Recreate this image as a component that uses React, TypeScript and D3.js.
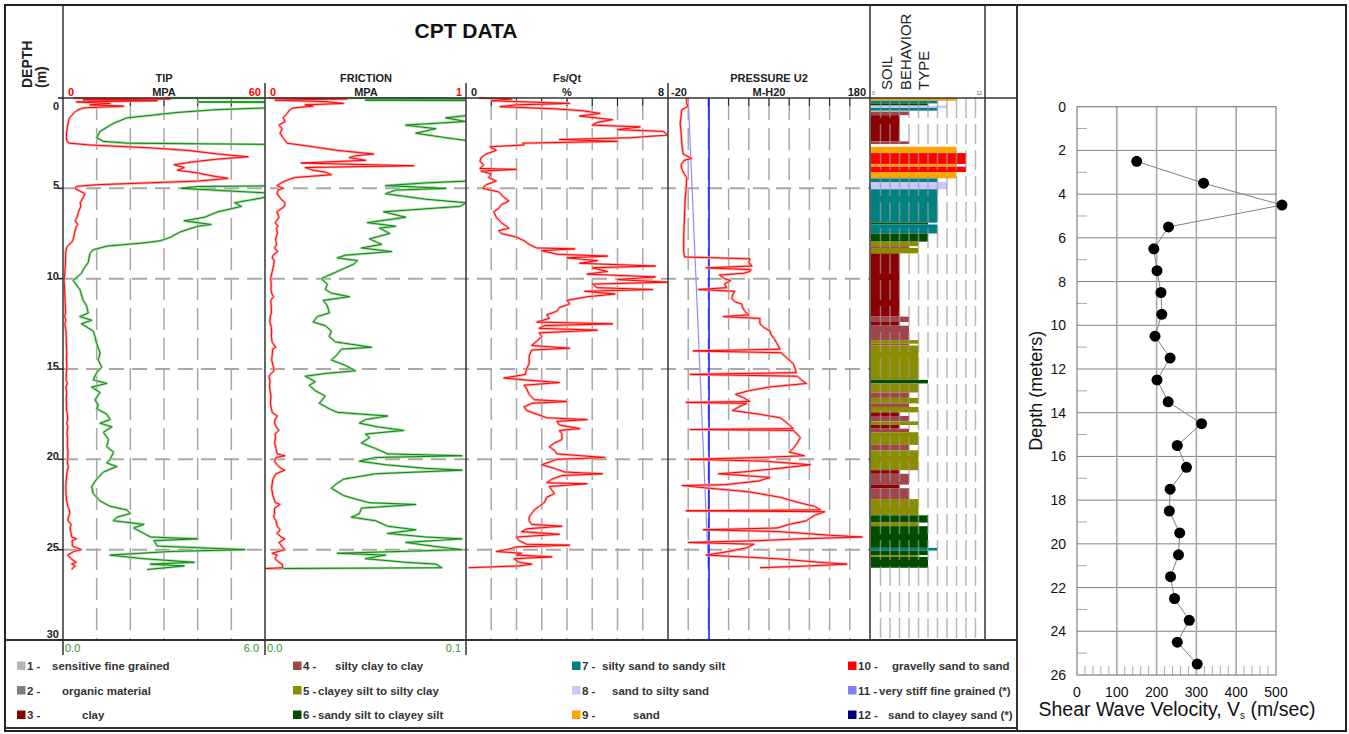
import * as d3 from "d3";

type Pt = [number, number];

const FONT = "'Liberation Sans', Arial, Helvetica, sans-serif";

// cone tip resistance, [depth m, MPa]
const tipTrace: Pt[] = [
  [0, 3], [0.05, 32], [0.1, 6], [0.15, 28], [0.22, 4], [0.3, 14], [0.38, 8], [0.45, 18], [0.55, 6], [0.65, 4.5],
  [0.8, 3.4], [1.1, 1.9], [1.4, 1.5], [1.85, 1.1], [2.2, 1.0], [2.4, 1.2], [2.5, 1.9], [2.6, 8], [2.75, 25], [2.9, 37],
  [3.1, 46], [3.25, 55], [3.4, 45], [3.55, 38], [3.7, 33], [3.85, 36], [4.0, 34], [4.15, 40], [4.3, 44], [4.45, 49],
  [4.6, 40], [4.7, 25], [4.8, 10], [4.9, 4], [5.0, 3.5], [5.3, 6.5], [5.5, 6], [5.8, 5.1], [6.0, 5.3], [6.3, 4.6],
  [6.6, 4.2], [6.8, 3.6], [7.0, 4.4], [7.1, 4.0], [7.4, 3.5], [7.7, 3.2], [7.9, 2.9], [8.0, 2.5], [8.2, 1.3], [8.4, 0.9],
  [8.6, 0.8], [9.1, 0.75], [9.5, 0.6], [9.7, 0.55], [10.1, 0.3], [10.6, 0.5], [11.2, 0.6], [11.5, 0.7], [11.9, 0.75],
  [12.1, 0.5], [12.3, 0.85], [12.5, 0.55], [12.9, 0.9], [13.2, 0.95], [13.6, 1.0], [14.1, 1.1], [14.5, 1.05], [14.9, 1.15],
  [15.2, 1.0], [15.6, 0.9], [15.8, 1.3], [16.0, 0.85], [16.3, 1.1], [16.7, 0.95], [17.0, 1.05], [17.2, 1.0], [17.5, 1.3],
  [17.8, 1.4], [18.0, 1.1], [18.2, 1.45], [18.5, 1.2], [18.9, 1.35], [19.3, 1.3], [19.6, 1.5], [20.0, 1.4], [20.2, 1.3],
  [20.4, 1.6], [20.7, 1.2], [21.1, 1.0], [21.5, 0.85], [21.9, 0.9], [22.3, 1.1], [22.6, 1.4], [22.8, 1.9], [23.0, 2.0],
  [23.2, 1.6], [23.4, 1.5], [23.6, 2.4], [23.8, 2.1], [24.1, 2.4], [24.3, 2.6], [24.4, 4.0], [24.5, 2.7], [24.8, 2.8],
  [25.0, 5.4], [25.1, 3.2], [25.3, 1.4], [25.5, 2.4], [25.7, 3.9], [25.8, 2.6], [25.9, 3.6], [26.1, 2.5],
];

// sleeve friction, [depth m, MPa]
const frictionTrace: Pt[] = [
  [0, 0.02], [0.05, 0.41], [0.12, 0.05], [0.2, 0.3], [0.3, 0.39], [0.38, 0.2], [0.45, 0.24], [0.55, 0.14], [0.7, 0.12],
  [0.85, 0.11], [1.1, 0.09], [1.3, 0.1], [1.5, 0.07], [1.7, 0.085], [1.95, 0.075], [2.2, 0.09], [2.5, 0.11], [2.7, 0.24],
  [2.9, 0.36], [3.1, 0.54], [3.2, 0.45], [3.3, 0.42], [3.45, 0.5], [3.6, 0.18], [3.75, 0.74], [3.85, 0.2], [4.0, 0.24],
  [4.1, 0.3], [4.25, 0.33], [4.4, 0.15], [4.5, 0.12], [4.7, 0.08], [4.85, 0.06], [5.0, 0.09], [5.1, 0.065], [5.3, 0.06],
  [5.6, 0.08], [5.8, 0.1], [6.0, 0.097], [6.3, 0.059], [6.6, 0.07], [6.9, 0.051], [7.1, 0.065], [7.2, 0.057], [7.5, 0.062],
  [7.8, 0.052], [8.1, 0.058], [8.3, 0.048], [8.5, 0.063], [8.7, 0.04], [8.85, 0.036], [9.0, 0.046], [9.2, 0.044],
  [9.4, 0.04], [9.6, 0.036], [9.8, 0.032], [10.0, 0.028], [10.3, 0.031], [10.6, 0.03], [10.8, 0.033], [11.0, 0.042],
  [11.2, 0.029], [11.5, 0.031], [11.9, 0.032], [12.1, 0.026], [12.4, 0.024], [12.6, 0.03], [12.9, 0.033], [13.2, 0.032],
  [13.5, 0.035], [13.8, 0.053], [13.9, 0.038], [14.2, 0.036], [14.5, 0.033], [14.8, 0.04], [15.1, 0.045], [15.25, 0.03],
  [15.4, 0.02], [15.7, 0.025], [15.9, 0.022], [16.2, 0.025], [16.5, 0.03], [16.9, 0.027], [17.2, 0.032], [17.4, 0.036],
  [17.6, 0.061], [17.8, 0.05], [18.0, 0.047], [18.2, 0.056], [18.4, 0.069], [18.6, 0.05], [18.8, 0.052], [19.1, 0.048],
  [19.4, 0.055], [19.7, 0.061], [19.8, 0.098], [19.9, 0.055], [20.1, 0.047], [20.3, 0.06], [20.5, 0.08], [20.6, 0.098],
  [20.8, 0.055], [21.1, 0.039], [21.4, 0.035], [21.6, 0.033], [22.0, 0.039], [22.2, 0.045], [22.4, 0.052], [22.5, 0.075],
  [22.7, 0.048], [23.0, 0.047], [23.2, 0.043], [23.4, 0.055], [23.7, 0.061], [23.9, 0.075], [24.1, 0.061], [24.3, 0.08],
  [24.4, 0.098], [24.6, 0.07], [24.8, 0.083], [25.0, 0.098], [25.2, 0.036], [25.3, 0.06], [25.5, 0.05], [25.7, 0.07],
  [25.8, 0.085], [26.0, 0.088], [26.05, 0],
];

// friction ratio Fs/Qt, [depth m, %]
const ratioTrace: Pt[] = [
  [0, 0.5], [0.05, 1.8], [0.15, 1.0], [0.3, 4.1], [0.38, 2.0], [0.48, 1.35], [0.6, 3.5], [0.7, 4.6], [0.85, 5.3], [1.0, 4.5],
  [1.2, 5.8], [1.35, 5.2], [1.5, 5.0], [1.6, 6.9], [1.75, 6.0], [1.85, 7.8], [2.05, 8.0], [2.2, 6.5], [2.3, 3.7], [2.4, 6.0],
  [2.5, 2.25], [2.6, 2.3], [2.7, 0.95], [2.9, 1.2], [3.1, 0.8], [3.3, 0.6], [3.5, 0.55], [3.7, 0.7], [3.9, 0.55], [3.95, 2.0],
  [4.05, 0.6], [4.2, 1.0], [4.4, 0.9], [4.6, 1.2], [4.8, 0.8], [5.0, 0.65], [5.2, 1.3], [5.5, 1.5], [5.7, 1.7], [5.9, 1.4],
  [6.1, 1.3], [6.3, 1.1], [6.6, 1.2], [6.9, 1.4], [7.2, 1.7], [7.35, 1.3], [7.5, 1.4], [7.7, 2.0], [7.9, 2.3], [8.1, 2.5],
  [8.3, 2.8], [8.35, 4.3], [8.45, 3.0], [8.65, 3.6], [8.75, 5.6], [8.85, 4.0], [9.0, 5.2], [9.15, 4.5], [9.3, 7.5], [9.4, 5.0],
  [9.6, 5.6], [9.75, 4.8], [9.9, 7.5], [10.05, 6.0], [10.2, 8.0], [10.3, 5.0], [10.5, 5.2], [10.6, 7.4], [10.7, 4.7],
  [10.85, 5.9], [11.0, 4.8], [11.2, 4.0], [11.4, 4.1], [11.6, 3.7], [11.8, 3.6], [12.0, 3.2], [12.2, 3.3], [12.4, 2.8],
  [12.5, 5.8], [12.6, 3.1], [12.75, 2.9], [12.85, 5.2], [13.0, 2.9], [13.2, 3.0], [13.4, 2.85], [13.7, 2.6], [13.85, 4.1],
  [13.95, 2.6], [14.3, 2.5], [14.7, 2.5], [15.0, 2.4], [15.3, 2.35], [15.5, 1.5], [15.6, 2.3], [15.75, 3.7], [15.9, 2.3],
  [16.1, 2.4], [16.4, 2.5], [16.7, 2.7], [16.8, 4.0], [16.9, 2.6], [17.1, 2.3], [17.3, 2.4], [17.5, 2.8], [17.7, 3.2],
  [17.8, 4.8], [17.9, 3.6], [18.1, 3.7], [18.3, 4.5], [18.4, 3.7], [18.6, 3.8], [18.9, 3.8], [19.1, 3.5], [19.3, 3.3],
  [19.5, 3.5], [19.7, 3.6], [19.9, 5.5], [20.0, 3.6], [20.2, 3.2], [20.3, 3.0], [20.5, 3.5], [20.7, 3.9], [20.8, 5.4],
  [20.9, 3.8], [21.1, 3.4], [21.3, 3.2], [21.35, 4.8], [21.5, 3.3], [21.7, 3.4], [21.9, 3.5], [22.1, 3.2], [22.4, 3.1],
  [22.6, 2.9], [22.8, 2.7], [23.0, 2.6], [23.2, 2.5], [23.4, 2.5], [23.6, 2.6], [23.7, 3.8], [23.85, 2.4], [24.0, 2.2],
  [24.15, 3.7], [24.3, 2.0], [24.5, 2.1], [24.7, 2.4], [24.75, 4.1], [24.85, 2.0], [25.0, 1.6], [25.1, 1.2], [25.2, 2.2],
  [25.3, 2.0], [25.4, 3.4], [25.5, 1.9], [25.7, 2.1], [25.8, 2.6], [25.9, 2.1], [26.0, 0.1],
];

// pore pressure U2, [depth m, m-H2O]
const pressureTrace: Pt[] = [
  [0, -1.5], [0.3, -1.5], [0.45, 0], [0.66, -6.5], [1.0, -7], [1.4, -8], [1.9, -7], [2.3, -6.5], [2.7, -6], [3.1, -5],
  [3.35, 3.4], [3.45, -4], [3.7, -7], [3.9, -6.5], [4.2, -4], [4.4, -1.5], [5.0, -2], [5.6, -3], [6.3, -3.5], [7.0, -4],
  [7.8, -4.5], [8.5, -4.5], [8.8, -3.5], [8.9, 61], [9.1, 60], [9.3, 63], [9.4, 18], [9.5, 62], [9.6, 61], [9.7, 55],
  [9.8, 31], [10.0, 36], [10.1, 42], [10.3, 36], [10.5, 38], [10.6, 10], [10.7, 46], [10.9, 44], [11.1, 43], [11.3, 47],
  [11.4, 53], [11.6, 54], [11.8, 56], [12.0, 60], [12.1, 35], [12.2, 71], [12.5, 71], [12.7, 75], [12.9, 81], [13.1, 82],
  [13.3, 85], [13.6, 88], [13.9, 91], [14.0, 5], [14.1, 92], [14.4, 98], [14.7, 104], [15.0, 106], [15.2, 107], [15.3, 2],
  [15.4, 108], [15.6, 112], [15.8, 117], [16.0, 80], [16.2, 60], [16.4, 47], [16.6, 55], [16.8, 61], [16.85, -2], [16.9, 58],
  [17.1, 50], [17.3, 44], [17.5, 70], [17.7, 91], [17.9, 96], [18.1, 100], [18.3, 104], [18.35, 2], [18.4, 104], [18.6, 108],
  [18.8, 111], [19.1, 108], [19.4, 104], [19.6, 100], [19.8, 115], [19.9, 71], [20.0, 2], [20.1, 75], [20.3, 121], [20.5, 90],
  [20.7, 54], [20.8, 30], [21.0, 81], [21.2, 70], [21.4, 37], [21.45, -6], [21.6, 21], [21.8, 60], [22.1, 91], [22.4, 110],
  [22.6, 125], [22.8, 131], [22.85, -2], [22.9, 135], [23.1, 125], [23.4, 117], [23.6, 100], [23.8, 88], [23.9, 15], [24.0, 90],
  [24.2, 140], [24.3, 172], [24.4, 110], [24.5, 71], [24.6, 0], [24.7, 65], [24.9, 58], [25.1, 40], [25.3, 18], [25.5, 88],
  [25.7, 130], [25.8, 157], [25.9, 120], [26.0, 71],
];

const hydrostaticLine: Pt[] = [[0, 0], [26, 20]];
const equilibriumLine: Pt[] = [[0, 20.6], [30, 20.6]];

// soil behavior type layers: [top m, bottom m, type 1-12]
const soilLayers: [number, number, number][] = [
  [0.0, 0.15, 9], [0.15, 0.3, 7], [0.3, 0.42, 6], [0.42, 0.55, 8], [0.55, 0.7, 7], [0.75, 0.95, 4], [0.95, 2.4, 3],
  [2.4, 2.55, 4], [2.7, 3.05, 9], [3.05, 3.65, 10], [3.65, 3.8, 9], [3.8, 4.1, 10], [4.1, 4.45, 9], [4.45, 4.65, 7],
  [4.65, 5.05, 8], [5.05, 6.9, 7], [6.9, 7.0, 6], [7.0, 7.5, 7], [7.5, 7.95, 6], [7.95, 8.2, 5], [8.2, 8.3, 4], [8.3, 8.6, 5],
  [8.6, 12.1, 3], [12.1, 12.4, 4], [12.4, 12.6, 3], [12.6, 13.4, 4], [13.4, 13.6, 5], [13.6, 13.7, 4], [13.7, 15.6, 5],
  [15.6, 15.8, 6], [15.8, 16.3, 5], [16.3, 16.6, 4], [16.6, 16.9, 5], [16.9, 17.1, 4], [17.1, 17.4, 5], [17.4, 17.6, 3],
  [17.6, 17.9, 4], [17.9, 18.1, 5], [18.1, 18.3, 3], [18.3, 18.5, 4], [18.5, 19.2, 5], [19.2, 19.5, 4], [19.5, 20.6, 5],
  [20.6, 20.8, 3], [20.8, 21.4, 4], [21.4, 21.6, 3], [21.6, 22.2, 4], [22.2, 23.1, 5], [23.1, 23.5, 6], [23.5, 23.7, 5],
  [23.7, 24.9, 6], [24.9, 25.05, 7], [25.05, 25.3, 6], [25.3, 25.4, 5], [25.4, 26.0, 6],
];

const soilColors = [
  "#b4b4b4", "#808080", "#8b0000", "#a0454b", "#8c8c00", "#004d00",
  "#008080", "#c8c8ff", "#ffa500", "#ff0000", "#8080ff", "#000080",
];
const soilNames = [
  "sensitive fine grained", "organic material", "clay", "silty clay to clay",
  "clayey silt to silty clay", "sandy silt to clayey silt", "silty sand to sandy silt",
  "sand to silty sand", "sand", "gravelly sand to sand", "very stiff fine grained (*)",
  "sand to clayey sand (*)",
];
const legendTextDx = [35, 45, 65, 42, 25, 25, 30, 40, 61, 44, 31, 40];

const depthTicks = [0, 5, 10, 15, 20, 25, 30];

// shear wave velocity profile
const vsDepth = [2.5, 3.5, 4.5, 5.5, 6.5, 7.5, 8.5, 9.5, 10.5, 11.5, 12.5, 13.5, 14.5, 15.5, 16.5, 17.5, 18.5, 19.5, 20.5, 21.5, 22.5, 23.5, 24.5, 25.5];
const vsVelocity = [150, 318, 515, 230, 193, 201, 211, 213, 196, 234, 201, 229, 313, 252, 275, 234, 232, 258, 255, 235, 245, 282, 252, 302];

const RED = "#ff0000";
const RED_LIGHT = "#ffa8a8";
const GREEN = "#0a8a0a";
const GREEN_LIGHT = "#a6d8a6";

export default function App() {
  const y = d3.scaleLinear().domain([0, 30]).range([98, 640]);
  const tipX = d3.scaleLinear().domain([0, 60]).range([63, 265]);
  const tipX10 = d3.scaleLinear().domain([0, 6]).range([63, 265]);
  const fricX = d3.scaleLinear().domain([0, 1]).range([265, 466]);
  const fricX10 = d3.scaleLinear().domain([0, 0.1]).range([265, 466]);
  const ratioX = d3.scaleLinear().domain([0, 8]).range([466, 668]);
  const presX = d3.scaleLinear().domain([-20, 180]).range([668, 870]);
  const soilX = d3.scaleLinear().domain([0, 12]).range([871, 985]);

  const path = (data: Pt[], x: d3.ScaleLinear<number, number>) =>
    d3.line<Pt>().x((d) => x(d[1])).y((d) => y(d[0]))(data) || "";

  const trace = (data: Pt[], x: d3.ScaleLinear<number, number>, dark: string, light: string, clip: string) => (
    <g clipPath={`url(#${clip})`}>
      <path d={path(data, x)} fill="none" stroke={light} strokeWidth={2.6} strokeLinejoin="round" />
      <path d={path(data, x)} fill="none" stroke={dark} strokeWidth={1} />
    </g>
  );

  const vGrid = (x: d3.ScaleLinear<number, number>, values: number[], color = "#a8a8a8") =>
    values.map((v) => (
      <g key={v}>
        <line x1={x(v)} x2={x(v)} y1={98} y2={640} stroke={color} strokeWidth={1.5} strokeDasharray="22 8" />
        <line x1={x(v)} x2={x(v)} y1={98} y2={106} stroke="#222" strokeWidth={1} />
      </g>
    ));

  // right panel scales
  const vx = d3.scaleLinear().domain([0, 500]).range([1077, 1276]);
  const vy = d3.scaleLinear().domain([0, 26]).range([106.7, 675]);
  const vsPoints: Pt[] = vsDepth.map((d, i) => [d, vsVelocity[i]]);
  const vsLine = d3.line<Pt>().x((d) => vx(d[1])).y((d) => vy(d[0]))(vsPoints) || "";

  const headerText = { fontFamily: FONT, fontWeight: 700, fontSize: 11 } as const;

  return (
    <svg width={1349} height={734} style={{ position: "absolute", left: 0, top: 0, background: "#fff" }}>
      <defs>
        {[
          ["clipTip", 63, 265], ["clipFric", 265, 466], ["clipRatio", 466, 668], ["clipPres", 668, 870],
        ].map(([id, a, b]) => (
          <clipPath id={id as string} key={id as string}>
            <rect x={(a as number) + 0.5} y={96} width={(b as number) - (a as number) - 1} height={546} />
          </clipPath>
        ))}
      </defs>

      {/* horizontal dashed depth grid */}
      {[5, 10, 15, 20, 25].map((d) => (
        <line key={d} x1={63} x2={870} y1={y(d)} y2={y(d)} stroke="#a8a8a8" strokeWidth={2} strokeDasharray="15 8" />
      ))}

      {/* vertical grids */}
      {vGrid(tipX, [10, 20, 30, 40, 50])}
      {vGrid(ratioX, [1, 2, 3, 4, 5, 6, 7])}
      {vGrid(presX, [0, 20, 40, 60, 80, 100, 120, 140, 160])}

      {/* soil behavior bars */}
      {soilLayers.map(([t, b, s], i) => (
        <rect key={i} x={soilX(0)} y={y(t)} width={soilX(s) - soilX(0)} height={y(b) - y(t)} fill={soilColors[s - 1]} />
      ))}
      {d3.range(1, 12).map((v) => (
        <line key={v} x1={soilX(v)} x2={soilX(v)} y1={98} y2={640} stroke="#9a9a9a" strokeOpacity={0.7} strokeWidth={1.5} strokeDasharray="20 6" />
      ))}

      {/* traces */}
      {trace(tipTrace, tipX10, GREEN, GREEN_LIGHT, "clipTip")}
      {trace(tipTrace, tipX, RED, RED_LIGHT, "clipTip")}
      {trace(frictionTrace, fricX10, GREEN, GREEN_LIGHT, "clipFric")}
      {trace(frictionTrace, fricX, RED, RED_LIGHT, "clipFric")}
      {trace(ratioTrace, ratioX, RED, RED_LIGHT, "clipRatio")}
      <g clipPath="url(#clipPres)">
        <path d={path(hydrostaticLine, presX)} fill="none" stroke="#8c8cff" strokeWidth={1.2} />
        <path d={path(equilibriumLine, presX)} fill="none" stroke="#1010ff" strokeWidth={1.5} />
      </g>
      {trace(pressureTrace, presX, RED, RED_LIGHT, "clipPres")}

      {/* frame lines */}
      <g stroke="#333" fill="none">
        <rect x={5} y={5} width={1341} height={726} strokeWidth={2} stroke="#222" />
        <line x1={1017} x2={1017} y1={5} y2={731} strokeWidth={2} />
        <line x1={5} x2={1017} y1={728} y2={728} strokeWidth={2} />
        <line x1={63} x2={1017} y1={98} y2={98} strokeWidth={1.5} />
        <line x1={5} x2={1017} y1={640} y2={640} strokeWidth={2} />
        <line x1={63} x2={63} y1={5} y2={655} strokeWidth={1.5} />
        <line x1={265} x2={265} y1={83} y2={655} strokeWidth={1.5} />
        <line x1={466} x2={466} y1={83} y2={655} strokeWidth={1.5} />
        <line x1={668} x2={668} y1={83} y2={640} strokeWidth={1.5} />
        <line x1={870} x2={870} y1={5} y2={640} strokeWidth={1.5} />
        <line x1={985} x2={985} y1={5} y2={640} strokeWidth={1.5} />
      </g>

      {/* depth column */}
      {depthTicks.map((d) => (
        <g key={d}>
          <line x1={58} x2={63} y1={y(d)} y2={y(d)} stroke="#222" strokeWidth={1.5} />
          <text x={59} y={d === 0 ? y(d) + 12 : d === 30 ? y(d) - 2 : y(d) + 1} textAnchor="end" {...headerText} fill="#222">
            {d}
          </text>
        </g>
      ))}

      {/* header */}
      <text x={466} y={38} textAnchor="middle" fontFamily={FONT} fontWeight={700} fontSize={21} fill="#111">CPT DATA</text>
      <text transform="translate(32,88) rotate(-90)" fontFamily={FONT} fontWeight={700} fontSize={14} fill="#222">DEPTH</text>
      <text transform="translate(46,88) rotate(-90)" fontFamily={FONT} fontWeight={700} fontSize={14} fill="#222">(m)</text>
      {[["SOIL", 892], ["BEHAVIOR", 911], ["TYPE", 929]].map(([t, x]) => (
        <text key={t} transform={`translate(${x},90) rotate(-90)`} fontFamily={FONT} fontSize={15} fill="#222">{t}</text>
      ))}
      <text x={soilX(0) + 1} y={95} fontFamily={FONT} fontSize={5} fill="#555">0</text>
      <text x={soilX(11.4)} y={95} fontFamily={FONT} fontSize={5} fill="#555" textAnchor="middle">12</text>

      {[
        ["TIP", "MPA", 164], ["FRICTION", "MPA", 366], ["Fs/Qt", "%", 567], ["PRESSURE U2", "M-H20", 769],
      ].map(([a, b, x]) => (
        <g key={a as string} {...headerText} fill="#222" textAnchor="middle">
          <text x={x as number} y={82}>{a}</text>
          <text x={x as number} y={96}>{b}</text>
        </g>
      ))}
      <g {...headerText}>
        <text x={tipX(0) + 5} y={96} fill={RED}>0</text>
        <text x={tipX(60) - 4} y={96} fill={RED} textAnchor="end">60</text>
        <text x={fricX(0) + 5} y={96} fill={RED}>0</text>
        <text x={fricX(1) - 4} y={96} fill={RED} textAnchor="end">1</text>
        <text x={ratioX(0) + 5} y={96} fill="#222">0</text>
        <text x={ratioX(8) - 4} y={96} fill="#222" textAnchor="end">8</text>
        <text x={presX(-20) + 3} y={96} fill="#222">-20</text>
        <text x={presX(180) - 4} y={96} fill="#222" textAnchor="end">180</text>
      </g>

      {/* green scale labels */}
      <g fontFamily={FONT} fontSize={11} fill="#2a9a2a">
        <text x={tipX10(0) + 2} y={652}>0.0</text>
        <text x={tipX10(6) - 6} y={652} textAnchor="end">6.0</text>
        <text x={fricX10(0) + 2} y={652}>0.0</text>
        <text x={fricX10(0.1) - 5} y={652} textAnchor="end">0.1</text>
      </g>

      {/* legend */}
      {soilNames.map((name, i) => {
        const col = Math.floor(i / 3);
        const row = i % 3;
        const x0 = [17, 293, 572, 848][col];
        const yy = 670 + row * 24.5;
        return (
          <g key={name} fontFamily={FONT} fontWeight={700} fontSize={11.5} fill="#333">
            <rect x={x0} y={yy - 8.5} width={8.5} height={8.5} fill={soilColors[i]} />
            <text x={x0 + 10} y={yy}>{`${i + 1} -`}</text>
            <text x={x0 + legendTextDx[i]} y={yy}>{name}</text>
          </g>
        );
      })}

      {/* shear wave velocity chart */}
      <g>
        {d3.range(2, 26, 2).map((d) => (
          <line key={d} x1={vx(0)} x2={vx(500)} y1={vy(d)} y2={vy(d)} stroke="#808080" strokeWidth={1} />
        ))}
        {[100, 200, 300, 400].map((v) => (
          <line key={v} x1={vx(v)} x2={vx(v)} y1={vy(0)} y2={vy(26)} stroke="#a8a8a8" strokeWidth={1.6} />
        ))}
        {d3.range(1, 26, 2).map((d) => (
          <line key={d} x1={vx(0)} x2={vx(0) + 10} y1={vy(d)} y2={vy(d)} stroke="#aaa" strokeWidth={1} />
        ))}
        {d3.range(20, 500, 20).filter((v) => v % 100 !== 0).map((v) => (
          <line key={v} x1={vx(v)} x2={vx(v)} y1={vy(26)} y2={vy(26) - 9} stroke="#aaa" strokeWidth={1} />
        ))}
        <rect x={vx(0)} y={vy(0)} width={vx(500) - vx(0)} height={vy(26) - vy(0)} fill="none" stroke="#808080" strokeWidth={1.2} />
        <path d={vsLine} fill="none" stroke="#808080" strokeWidth={1} />
        {vsPoints.map((p, i) => (
          <circle key={i} cx={vx(p[1])} cy={vy(p[0])} r={5.5} fill="#000" />
        ))}
        {d3.range(0, 27, 2).map((d) => (
          <text key={d} x={1066} y={vy(d) + 5} textAnchor="end" fontFamily={FONT} fontSize={14} fill="#111">{d}</text>
        ))}
        {d3.range(0, 501, 100).map((v) => (
          <text key={v} x={vx(v)} y={697} textAnchor="middle" fontFamily={FONT} fontSize={14} fill="#111">{v}</text>
        ))}
        <text transform={`translate(1042,${(vy(0) + vy(26)) / 2}) rotate(-90)`} textAnchor="middle" fontFamily={FONT} fontSize={18} fill="#111">
          Depth (meters)
        </text>
        <text x={1177} y={716} textAnchor="middle" fontFamily={FONT} fontSize={19.5} fill="#111">
          Shear Wave Velocity, V<tspan fontSize={10} dy={3}>s</tspan><tspan dy={-3}> (m/sec)</tspan>
        </text>
      </g>
    </svg>
  );
}
